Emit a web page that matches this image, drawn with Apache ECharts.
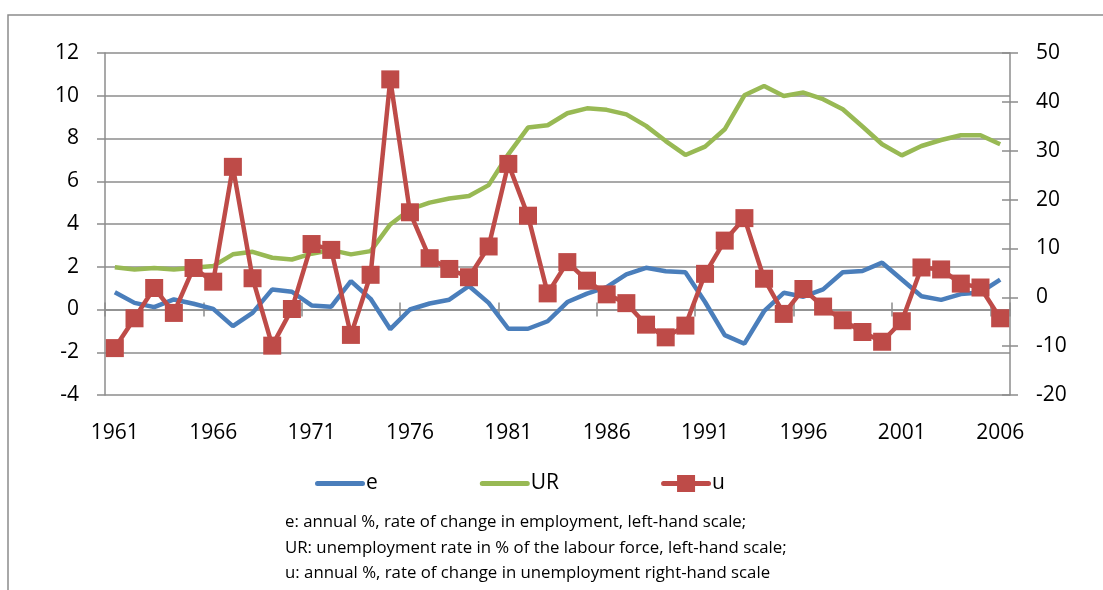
<!DOCTYPE html>
<html>
<head>
<meta charset="utf-8">
<script src="https://cdn.jsdelivr.net/npm/echarts@6/dist/echarts.min.js"></script>
<style>
  html, body { margin: 0; padding: 0; background: #fff; }
  #chart { width: 1103px; height: 590px; }
</style>
</head>
<body>
<div id="chart"></div>
<script>
const years = ['1961', '1962', '1963', '1964', '1965', '1966', '1967', '1968', '1969', '1970',
    '1971', '1972', '1973', '1974', '1975', '1976', '1977', '1978', '1979', '1980',
    '1981', '1982', '1983', '1984', '1985', '1986', '1987', '1988', '1989', '1990',
    '1991', '1992', '1993', '1994', '1995', '1996', '1997', '1998', '1999', '2000',
    '2001', '2002', '2003', '2004', '2005', '2006'];

// e: annual % change in employment (left scale)
const eValues = [0.81, 0.31, 0.11, 0.47, 0.27, 0.03, -0.78, -0.16, 0.94, 0.83,
    0.19, 0.13, 1.33, 0.50, -0.92, 0.0, 0.28, 0.46, 1.10, 0.31,
    -0.90, -0.90, -0.55, 0.35, 0.74, 1.05, 1.64, 1.95, 1.79, 1.74,
    0.35, -1.20, -1.60, -0.08, 0.78, 0.60, 0.94, 1.74, 1.80, 2.19,
    1.40, 0.62, 0.45, 0.72, 0.80, 1.40];

// UR: unemployment rate (left scale)
const urValues = [1.98, 1.87, 1.94, 1.87, 1.95, 2.03, 2.58, 2.70, 2.42, 2.34,
    2.61, 2.78, 2.58, 2.73, 3.98, 4.68, 5.00, 5.19, 5.31, 5.82,
    7.26, 8.51, 8.62, 9.18, 9.41, 9.34, 9.13, 8.59, 7.88, 7.23,
    7.62, 8.43, 10.02, 10.46, 9.99, 10.15, 9.84, 9.37, 8.56, 7.73,
    7.21, 7.65, 7.93, 8.15, 8.15, 7.73];

// u: annual % change in unemployment (right scale)
const uValues = [-10.4, -4.3, 1.9, -3.2, 6.0, 3.2, 26.7, 3.9, -9.9, -2.4,
    10.9, 9.7, -7.7, 4.6, 44.6, 17.4, 8.0, 5.8, 4.1, 10.4,
    27.3, 16.7, 0.8, 7.2, 3.4, 0.6, -1.2, -5.6, -8.2, -5.8,
    4.8, 11.6, 16.2, 3.8, -3.4, 1.7, -1.9, -4.7, -7.1, -9.1,
    -4.9, 6.1, 5.7, 2.8, 2.0, -4.3];

const leftScale = { min: -4, max: 12, interval: 2 };
const rightScale = { min: -20, max: 50, interval: 10 };

const notes = [
    'e: annual %, rate of change in employment, left-hand scale;',
    'UR: unemployment rate in % of the labour force, left-hand scale;',
    'u: annual %, rate of change in unemployment right-hand scale'
];

const FONT = 'Open Sans';
const GRAY = '#8c8c8c';

const axisFont = { fontFamily: FONT, fontSize: 21, color: '#000' };

// legend icons: thick line, and thick line with a square in the middle
const lineIcon = 'path://M0,0 H0.01 V0.01 H0 Z M2.5,6 H47.5 A2.5,2.5 0 0 1 47.5,11 H2.5 A2.5,2.5 0 0 1 2.5,6 Z M0,16.99 H0.01 V17 H0 Z';
const squareIcon = 'path://M2.5,6 H47.5 A2.5,2.5 0 0 1 47.5,11 H2.5 A2.5,2.5 0 0 1 2.5,6 Z M16,0 H34 V17 H16 Z';

const getOption = () => {
    return {
        animation: false,
        backgroundColor: '#fff',
        textStyle: { fontFamily: FONT },
        grid: { left: 105, right: 93, top: 53, bottom: 195 },
        legend: {
            data: [
                { name: 'e', icon: lineIcon },
                { name: 'UR', icon: lineIcon },
                { name: 'u', icon: squareIcon }
            ],
            left: 310,
            top: 468,
            itemWidth: 50,
            itemHeight: 17,
            itemGap: 102,
            textStyle: { fontFamily: FONT, fontSize: 21, color: '#000', padding: [0, 0, 0, -4] }
        },
        xAxis: [
            {
                // axis line at zero with downward ticks
                type: 'category',
                data: years,
                position: 'bottom',
                boundaryGap: true,
                axisLine: { show: true, onZero: true, onZeroAxisIndex: 0, lineStyle: { color: GRAY, width: 1.5 } },
                axisTick: { show: true, interval: 4, length: 7, inside: false, lineStyle: { color: GRAY, width: 1.5 } },
                axisLabel: { show: false },
                splitLine: { show: false }
            },
            {
                // upward half of the cross ticks
                type: 'category',
                data: years,
                position: 'bottom',
                boundaryGap: true,
                axisLine: { show: true, onZero: true, onZeroAxisIndex: 0, lineStyle: { opacity: 0 } },
                axisTick: { show: true, interval: 4, length: 7, inside: true, lineStyle: { color: GRAY, width: 1.5 } },
                axisLabel: { show: false },
                splitLine: { show: false }
            },
            {
                // labels along the bottom
                type: 'category',
                data: years,
                position: 'bottom',
                boundaryGap: true,
                axisLine: { show: false, onZero: false },
                axisTick: { show: false },
                axisLabel: { interval: 4, margin: 28, ...axisFont },
                splitLine: { show: false }
            }
        ],
        yAxis: [
            {
                type: 'value',
                position: 'left',
                min: leftScale.min,
                max: leftScale.max,
                interval: leftScale.interval,
                axisLine: { show: true, lineStyle: { color: GRAY, width: 1.5 } },
                axisTick: { show: true, length: 8, lineStyle: { color: GRAY, width: 1.5 } },
                axisLabel: { margin: 26, ...axisFont },
                splitLine: { show: true, lineStyle: { color: GRAY, width: 1.5 } }
            },
            {
                type: 'value',
                position: 'right',
                min: rightScale.min,
                max: rightScale.max,
                interval: rightScale.interval,
                axisLine: { show: true, lineStyle: { color: GRAY, width: 1.5 } },
                axisTick: { show: true, length: 8, lineStyle: { color: GRAY, width: 1.5 } },
                axisLabel: { margin: 26, ...axisFont },
                splitLine: { show: false }
            },
            {
                // inner half of the right-hand cross ticks
                type: 'value',
                position: 'right',
                min: rightScale.min,
                max: rightScale.max,
                interval: rightScale.interval,
                axisLine: { show: false },
                axisTick: { show: true, inside: true, length: 8, lineStyle: { color: GRAY, width: 1.5 } },
                axisLabel: { show: false },
                splitLine: { show: false }
            }
        ],
        series: [
            {
                name: 'e',
                type: 'line',
                data: eValues,
                xAxisIndex: 0,
                yAxisIndex: 0,
                symbol: 'none',
                lineStyle: { color: '#4a7ebb', width: 4.5 },
                itemStyle: { color: '#4a7ebb' }
            },
            {
                name: 'UR',
                type: 'line',
                data: urValues,
                xAxisIndex: 0,
                yAxisIndex: 0,
                symbol: 'none',
                lineStyle: { color: '#98b954', width: 4.5 },
                itemStyle: { color: '#98b954' }
            },
            {
                name: 'u',
                type: 'line',
                data: uValues,
                xAxisIndex: 0,
                yAxisIndex: 1,
                symbol: 'rect',
                symbolSize: 18,
                showSymbol: true,
                showAllSymbol: true,
                lineStyle: { color: '#be4b48', width: 4.5 },
                itemStyle: { color: '#be4b48' }
            }
        ],
        graphic: [
            {
                type: 'rect',
                shape: { x: 8, y: 15, width: 1200, height: 700 },
                style: { fill: 'none', stroke: '#8c8c8c', lineWidth: 1.5 },
                silent: true
            },
            ...notes.map((line, i) => ({
                type: 'text',
                left: 285,
                top: 514 + i * 25.5,
                style: { text: line, fontFamily: FONT, fontSize: 16.8, fill: '#000' }
            }))
        ]
    };
};

const chart = echarts.init(document.getElementById('chart'));
chart.setOption(getOption());
</script>
</body>
</html>
